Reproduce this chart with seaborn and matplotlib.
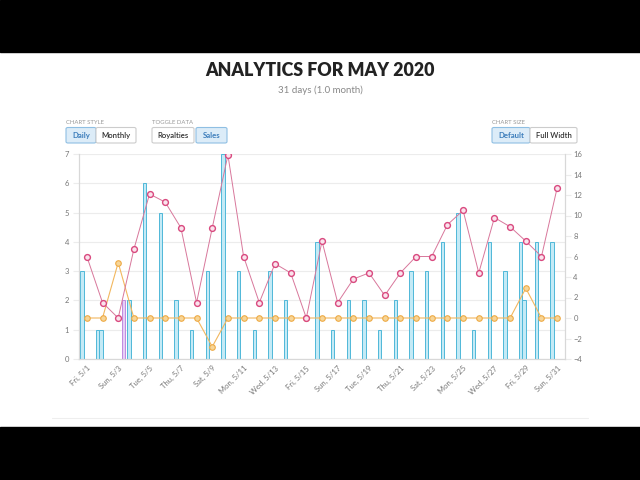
import matplotlib
matplotlib.use("Agg")
import matplotlib.pyplot as plt
from matplotlib.patches import Rectangle, FancyBboxPatch
from matplotlib.lines import Line2D
import seaborn as sns
import pandas as pd
import numpy as np

# ---------------- data ----------------
days = ["Fri, 5/1", "Sat, 5/2", "Sun, 5/3", "Mon, 5/4", "Tue, 5/5", "Wed, 5/6", "Thu, 5/7",
        "Fri, 5/8", "Sat, 5/9", "Sun, 5/10", "Mon, 5/11", "Tue, 5/12", "Wed, 5/13", "Thu, 5/14",
        "Fri, 5/15", "Sat, 5/16", "Sun, 5/17", "Mon, 5/18", "Tue, 5/19", "Wed, 5/20", "Thu, 5/21",
        "Fri, 5/22", "Sat, 5/23", "Sun, 5/24", "Mon, 5/25", "Tue, 5/26", "Wed, 5/27", "Thu, 5/28",
        "Fri, 5/29", "Sat, 5/30", "Sun, 5/31"]
formats = ["Format A", "Format B", "Format C", "Format D"]
sales_a = [3, 1, 0, 2, 6, 5, 2, 1, 3, 7, 3, 1, 3, 2, 0, 4, 1, 2, 2, 1, 2, 3, 3, 4, 5, 1, 4, 3, 4, 4, 4]
sales_b = [0, 1, 0, 0, 0, 0, 0, 0, 0, 0, 0, 0, 0, 0, 0, 0, 0, 0, 0, 0, 0, 0, 0, 0, 0, 0, 0, 0, 2, 0, 0]
sales_c = [0] * 31
sales_d = [0, 0, 2, 0, 0, 0, 0, 0, 0, 0, 0, 0, 0, 0, 0, 0, 0, 0, 0, 0, 0, 0, 0, 0, 0, 0, 0, 0, 0, 0, 0]
royalties = [6.0, 1.5, 0.0, 6.7, 12.1, 11.3, 8.8, 1.5, 8.8, 15.9, 6.0, 1.5, 5.3, 4.4, 0.0, 7.5,
             1.5, 3.8, 4.4, 2.2, 4.4, 6.0, 6.0, 9.1, 10.5, 4.4, 9.8, 8.9, 7.5, 6.0, 12.7]
adjust = [0.0, 0.0, 5.4, 0.0, 0.0, 0.0, 0.0, 0.0, -2.8, 0.0, 0.0, 0.0, 0.0, 0.0, 0.0, 0.0,
          0.0, 0.0, 0.0, 0.0, 0.0, 0.0, 0.0, 0.0, 0.0, 0.0, 0.0, 0.0, 2.9, 0.0, 0.0]
left_ticks = [0, 1, 2, 3, 4, 5, 6, 7]
right_ticks = [-4, -2, 0, 2, 4, 6, 8, 10, 12, 14, 16]

df = pd.DataFrame({
    "day": days * 4,
    "format": [f for f in formats for _ in days],
    "units": sales_a + sales_b + sales_c + sales_d,
})
day_idx = np.arange(len(days))

# ---------------- style ----------------
sns.set_style("white")
plt.rcParams["font.family"] = ["Lato", "DejaVu Sans"]

W, H = 640, 480
fig = plt.figure(figsize=(6.4, 4.8), dpi=100)
fig.patch.set_facecolor("white")

def fx(x):
    return x / W

def fy(y):
    return 1 - y / H

# black bands (video letterbox)
fig.patches.append(Rectangle((0, fy(52)), 1, 52 / H, transform=fig.transFigure,
                             color="black", zorder=0))
fig.patches.append(Rectangle((0, 0), 1, fy(427), transform=fig.transFigure,
                             color="black", zorder=0))
# card bottom line
fig.lines.append(Line2D([fx(52), fx(588)], [fy(418), fy(418)], transform=fig.transFigure,
                        color="#eeeeee", lw=0.8))

# title
fig.text(fx(320), fy(71), "ANALYTICS FOR MAY 2020", ha="center", va="center",
         fontsize=12.8, fontweight="heavy", color="#222222")
fig.text(fx(320), fy(90), "31 days (1.0 month)", ha="center", va="center",
         fontsize=7, color="#888888")

# buttons
def button(x0, x1, text, active):
    y0, y1 = 127.5, 143
    fc = "#dcecf8" if active else "white"
    ec = "#8fbfe3" if active else "#cccccc"
    p = FancyBboxPatch((fx(x0), fy(y1)), fx(x1) - fx(x0), fy(y0) - fy(y1),
                       boxstyle="round,pad=0,rounding_size=0.003",
                       transform=fig.transFigure, fc=fc, ec=ec, lw=0.8)
    fig.patches.append(p)
    fig.text((fx(x0) + fx(x1)) / 2, fy((y0 + y1) / 2 + 0.3), text, ha="center", va="center",
             fontsize=5.6, color="#3c7dbb" if active else "#333333",
             fontweight="bold" if active else "semibold")

def label(x, text):
    fig.text(fx(x), fy(122), text, ha="left", va="center", fontsize=4.3, color="#999999")

label(66, "CHART STYLE")
button(66, 96, "Daily", True)
button(96, 136, "Monthly", False)
label(152, "TOGGLE DATA")
button(152, 194, "Royalties", False)
button(196, 227, "Sales", True)
label(492, "CHART SIZE")
button(492, 530, "Default", True)
button(530, 577, "Full Width", False)

# ---------------- chart ----------------
ax = fig.add_axes([fx(79), fy(359), fx(565) - fx(79), fy(154) - fy(359)])
fill_colors = ["#c4eaf6", "#c4eaf6", "#c4eaf6", "#e6cff6"]
edge_colors = ["#4fb8d8", "#4fb8d8", "#4fb8d8", "#bf8ae0"]
sns.barplot(data=df, x="day", y="units", hue="format", hue_order=formats, order=days,
            palette=fill_colors, saturation=1, dodge=True, width=0.85, gap=0.0,
            linewidth=0.7, legend=False, ax=ax, zorder=2)
for cont, ec in zip(ax.containers, edge_colors):
    for bar in cont:
        bar.set_edgecolor(ec)
        if bar.get_height() == 0:
            bar.set_visible(False)

ax2 = ax.twinx()
orange = "#f0ad4e"
pink = "#d9497f"
sns.lineplot(x=day_idx, y=adjust, ax=ax2, color="#f2b75e", linewidth=0.8, marker="o",
             markersize=4.0, markerfacecolor="#f7d597", markeredgecolor="#eeaa45",
             markeredgewidth=0.8, zorder=3)
sns.lineplot(x=day_idx, y=royalties, ax=ax2, color="#d8779b", linewidth=0.7, marker="o",
             markersize=4.2, markerfacecolor="#fae3ec", markeredgecolor=pink,
             markeredgewidth=1.0, zorder=4)

ax.set_xlim(-0.5, 30.5)
ax.set_ylim(0, 7)
ax2.set_ylim(-4, 16)
ax.set_yticks(left_ticks)
ax2.set_yticks(right_ticks)
ax.set_xticks(day_idx[::2])
ax.set_xticklabels(days[::2], rotation=45, ha="right", rotation_mode="anchor")
ax.set_xlabel("")
ax.set_ylabel("")
ax2.set_ylabel("")
ax2.set_xlabel("")

ax.yaxis.grid(True, color="#ececec", lw=0.8)
ax.set_axisbelow(True)
for a in (ax, ax2):
    for s in a.spines.values():
        s.set_color("#d8d8d8")
        s.set_linewidth(0.8)
    a.spines["top"].set_visible(False)
ax.spines["bottom"].set_color("#cfcfcf")
ax.tick_params(axis="y", length=4, color="#ececec", labelsize=5.5, labelcolor="#777777", pad=3)
ax2.tick_params(axis="y", length=4, color="#ececec", labelsize=5.5, labelcolor="#777777", pad=2)
ax.tick_params(axis="x", length=0, labelsize=5.5, labelcolor="#777777", pad=4)

fig.savefig("out.png", dpi=100)
